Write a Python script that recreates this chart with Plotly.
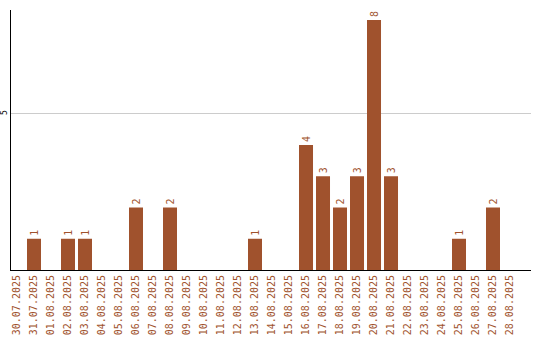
import plotly.graph_objects as go

dates = ["30.07.2025","31.07.2025","01.08.2025","02.08.2025","03.08.2025","04.08.2025",
         "05.08.2025","06.08.2025","07.08.2025","08.08.2025","09.08.2025","10.08.2025",
         "11.08.2025","12.08.2025","13.08.2025","14.08.2025","15.08.2025","16.08.2025",
         "17.08.2025","18.08.2025","19.08.2025","20.08.2025","21.08.2025","22.08.2025",
         "23.08.2025","24.08.2025","25.08.2025","26.08.2025","27.08.2025","28.08.2025"]
counts = [0,1,0,1,1,0,0,2,0,2,0,0,0,0,1,0,0,4,3,2,3,8,3,0,0,0,1,0,2,0]
y_ticks = [5]

labels = [str(v) if v else "" for v in counts]
color = "#a0522d"

fig = go.Figure(go.Bar(
    x=dates, y=counts, marker_color=color, marker_line_width=0,
    text=labels, textposition="outside", textangle=-90,
    textfont=dict(family="DejaVu Sans Mono", size=10, color=color),
    cliponaxis=False,
))
fig.update_layout(
    width=540, height=340, margin=dict(l=11, r=9, t=10, b=70),
    paper_bgcolor="white", plot_bgcolor="white", bargap=0.176, showlegend=False,
    uniformtext=dict(minsize=10, mode="show"),
)
fig.update_xaxes(type="category", range=[-0.353, 30.235], tickangle=-90, showline=True,
                 linecolor="black", linewidth=1,
                 tickfont=dict(family="DejaVu Sans Mono", size=10, color=color),
                 ticks="", showgrid=False, automargin=False)
fig.update_yaxes(range=[0, 8.32], tickvals=y_ticks, showline=True, linecolor="black", linewidth=1,
                 gridcolor="#cccccc", tickangle=-90, zeroline=False, automargin=False,
                 tickfont=dict(family="DejaVu Sans Mono", size=8, color="black"), ticks="")
fig.write_html("out.html")
